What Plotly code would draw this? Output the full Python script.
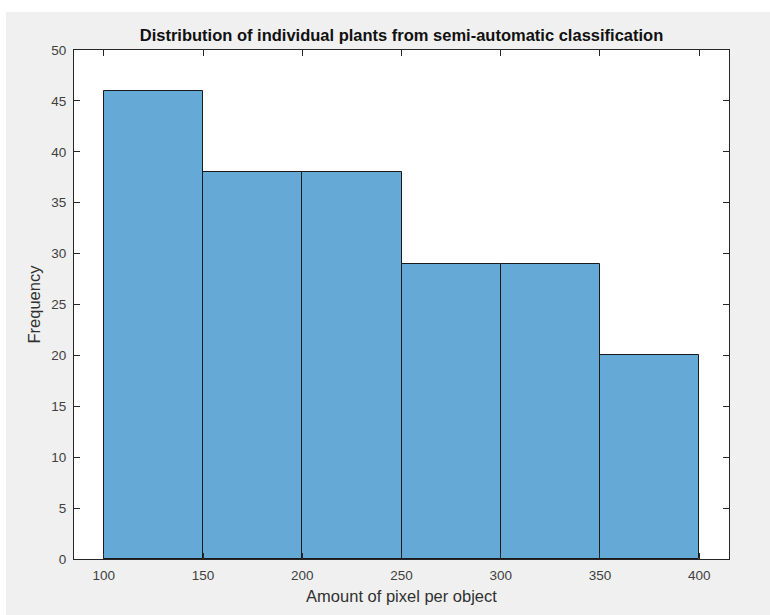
import plotly.graph_objects as go

# Histogram bins (pixel count per object) and their frequencies
bin_edges = [100, 150, 200, 250, 300, 350, 400]
counts = [46, 38, 38, 29, 29, 20]

x_ticks = [100, 150, 200, 250, 300, 350, 400]
y_ticks = [0, 5, 10, 15, 20, 25, 30, 35, 40, 45, 50]

centers = [(a + b) / 2 for a, b in zip(bin_edges[:-1], bin_edges[1:])]
widths = [b - a for a, b in zip(bin_edges[:-1], bin_edges[1:])]

W, H = 770, 615
L, R, T, B = 74, 729, 50, 559  # plot-area pixel bounds

fig = go.Figure(
    go.Bar(
        x=centers,
        y=counts,
        width=widths,
        marker=dict(color="#65aad7", line=dict(color="#1a1a1a", width=1)),
        hoverinfo="x+y",
    )
)

FAMILY = "Liberation Sans, Arial, sans-serif"
tick_font = dict(family=FAMILY, size=13.5, color="#404040")
label_font = dict(family=FAMILY, size=16.5, color="#303030")

fig.update_layout(
    width=W,
    height=H,
    margin=dict(l=L, r=W - R, t=T, b=H - B, pad=0),
    paper_bgcolor="#f0f0f0",
    plot_bgcolor="white",
    bargap=0,
    showlegend=False,
    font=tick_font,
    title=dict(
        text="<b>Distribution of individual plants from semi-automatic classification</b>",
        x=(L + R) / 2 / W,
        xanchor="center",
        y=1 - 35 / H,
        yanchor="middle",
        font=dict(family=FAMILY, size=16.5, color="#111111"),
    ),
    xaxis=dict(
        range=[85, 415],
        tickvals=x_ticks,
        ticks="inside",
        ticklen=6,
        tickcolor="#262626",
        showline=True,
        linecolor="#262626",
        linewidth=1,
        mirror="ticks",
        showgrid=False,
        zeroline=False,
        tickfont=tick_font,
        ticklabelstandoff=4,
        title=dict(text="Amount of pixel per object", font=label_font, standoff=8),
    ),
    yaxis=dict(
        range=[0, 50],
        tickvals=y_ticks,
        ticks="inside",
        ticklen=6,
        tickcolor="#262626",
        showline=True,
        linecolor="#262626",
        linewidth=1,
        mirror="ticks",
        showgrid=False,
        zeroline=False,
        tickfont=tick_font,
        ticklabelstandoff=4,
        title=dict(text="Frequency", font=label_font, standoff=6),
    ),
)

# White strips along the top and left edge of the window
pw, ph = R - L, B - T
fig.add_shape(type="rect", xref="paper", yref="paper", layer="below",
              x0=-L / pw, x1=(W - L) / pw, y0=(B - 12) / ph, y1=B / ph,
              fillcolor="white", line=dict(width=0))
fig.add_shape(type="rect", xref="paper", yref="paper", layer="below",
              x0=-L / pw, x1=(6 - L) / pw, y0=(B - H) / ph, y1=B / ph,
              fillcolor="white", line=dict(width=0))

fig.write_html("out.html")
